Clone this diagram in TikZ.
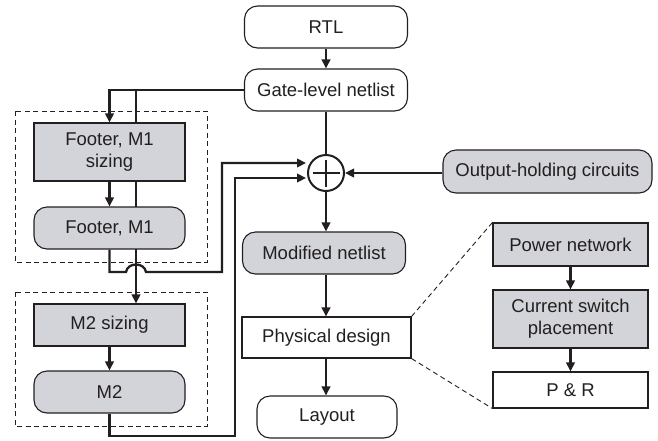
\documentclass[tikz,border=0pt]{standalone}
\usepackage{fontspec}
\setmainfont{Liberation Sans}
\usetikzlibrary{arrows.meta,backgrounds,calc}
\definecolor{boxgray}{RGB}{210,212,217}
\definecolor{ink}{RGB}{35,31,32}
\tikzset{
  every node/.style={font=\fontsize{18.5}{22}\selectfont, text=ink, inner sep=0pt, align=center},
  base/.style={draw=ink, line width=1.1pt},
  roundwhite/.style={base, fill=white, rounded corners=13pt},
  roundgray/.style={base, fill=boxgray, rounded corners=13pt},
  rectwhite/.style={base, fill=white},
  rectgray/.style={base, fill=boxgray},
  conn/.style={draw=ink, line width=2.3pt},
  arr/.style={conn, -{Triangle[length=9pt,width=8.5pt]}},
  group/.style={draw=ink, line width=1pt, dash pattern=on 5pt off 3.5pt},
  zoomline/.style={draw=ink, line width=0.9pt, dash pattern=on 5pt off 3.5pt},
}
\begin{document}
\begin{tikzpicture}[x=1pt,y=-1pt]
\useasboundingbox (0,0) rectangle (658,440);

% main flow
\node[roundwhite, minimum width=163pt, minimum height=42pt] (rtl) at (326,27) {RTL};
\node[roundwhite, minimum width=163pt, minimum height=42pt] (gate) at (326,90) {Gate-level netlist};
\node[circle, draw=ink, line width=2pt, minimum size=36pt, fill=white] (plus) at (326,173) {};
\node[roundgray, minimum width=209pt, minimum height=43pt] (out) at (547.5,171.5) {Output-holding circuits};
\node[roundgray, minimum width=163pt, minimum height=42pt] (mod) at (324,253) {Modified netlist};
\node[rectwhite, minimum width=169pt, minimum height=41pt] (phys) at (326.5,337.5) {Physical design};
\node[roundwhite, minimum width=140pt, minimum height=42pt] (lay) at (327,417) {Layout};

% physical design detail
\node[rectgray, minimum width=155pt, minimum height=43pt] (pow) at (570.5,244.5) {Power network};
\node[rectgray, minimum width=155pt, minimum height=58pt] (cur) at (570.5,319) {Current switch\\placement};
\node[rectwhite, minimum width=155pt, minimum height=36pt] (pr) at (570.5,390) {P \& R};

% footer / M1 group
\draw[group] (15,111) rectangle (207,262);
\node[rectgray, minimum width=151pt, minimum height=58pt] (fsz) at (109.5,152) {Footer, M1\\sizing};
\node[roundgray, minimum width=151pt, minimum height=42pt] (fm1) at (109.5,228) {Footer, M1};

% M2 group
\draw[group] (15,292) rectangle (207,426);
\node[rectgray, minimum width=151pt, minimum height=42pt] (m2s) at (109.5,325) {M2 sizing};
\node[roundgray, minimum width=151pt, minimum height=42pt] (m2) at (109.5,392) {M2};

% plus sign
\draw[line width=2pt, draw=ink] ($(plus.center)+(-13.5,0)$) -- ($(plus.center)+(13.5,0)$);
\draw[line width=2pt, draw=ink] ($(plus.center)+(0,-13.5)$) -- ($(plus.center)+(0,13.5)$);

% branch point of the netlist feed to the M2 stage
\coordinate (tap) at (136,90);
\coordinate (in1) at (306,163);
\coordinate (in2) at (306,178);

% feed that runs behind the footer boxes
\begin{scope}[on background layer]
  \draw[arr] (tap) -- (m2s.north -| tap);
\end{scope}

% main flow connectors
\draw[arr] (rtl) -- (gate);
\draw[conn] (gate) -- (plus);
\draw[arr] (plus.south) -- (plus.south |- mod.north);
\draw[arr] (mod.south -| plus) -- (phys.north -| plus);
\draw[arr] (phys.south -| plus) -- (lay.north -| plus);
\draw[arr] (out.west |- plus) -- (plus.east);

% netlist to footer sizing
\draw[arr] (gate.west) -| (fsz.north);
\draw[arr] (fsz) -- (fm1);
\draw[arr] (m2s) -- (m2);

% footer result, hopping over the feed line
\draw[arr] (fm1.south) -- (109.5,272) -- (126,272)
  .. controls (127.5,262) and (144.5,262) .. (146,272)
  -- (222,272) -- (222,163) -- (in1);

% M2 result
\draw[arr] (m2.south) -- (109.5,436) -- (235,436) -- (235,178) -- (in2);

% detail of physical design
\draw[arr] (pow) -- (cur);
\draw[arr] (cur) -- (pr);
\draw[zoomline] (phys.north east) -- (pow.north west);
\draw[zoomline] (phys.south east) -- (pr.south west);
\end{tikzpicture}
\end{document}
